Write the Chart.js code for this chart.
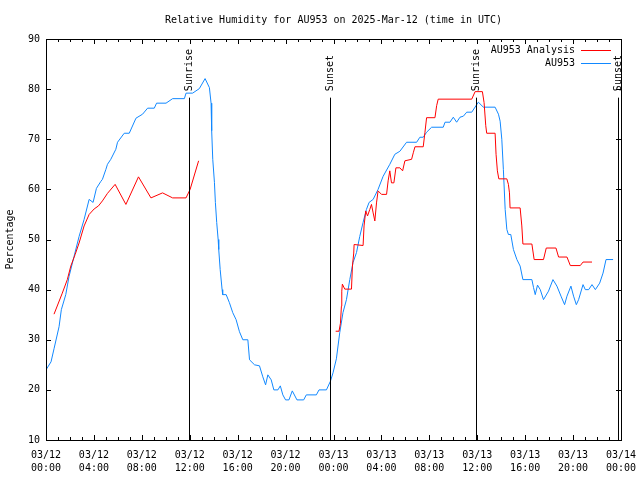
<!DOCTYPE html>
<html>
<head>
<meta charset="utf-8">
<title>Relative Humidity for AU953</title>
<script src="https://cdn.jsdelivr.net/npm/chart.js@4.4.1/dist/chart.umd.min.js"></script>
<style>
    html, body { margin: 0; padding: 0; background: #fff; }
    #wrap { width: 640px; height: 480px; }
</style>
</head>
<body>
<div id="wrap"><canvas id="rhChart" width="640" height="480"></canvas></div>
<script>
// Hours since 03/12 00:00 UTC, with values
const analysisHours = [0.67, 1.36, 1.78, 2.07, 2.43, 2.76, 3.18, 3.60, 4.02, 4.38, 4.71, 5.13, 5.77, 6.67, 7.72,
    8.76, 9.73, 10.57, 11.69, 12.03, 12.74, 18.00,
    24.18, 24.46, 24.58, 24.66, 24.69, 24.74, 24.94, 25.50, 25.58, 25.69, 25.72, 26.47, 26.55, 26.69, 26.84,
    27.03, 27.17, 27.31, 27.45, 27.59, 27.72, 28.01, 28.43, 28.56, 28.70, 28.84, 29.04, 29.21, 29.54, 29.77,
    29.96, 30.52, 30.66, 30.80, 31.49, 31.63, 31.77, 32.47, 32.61, 32.74, 35.54, 35.82, 36.43, 36.57, 36.71,
    36.79, 37.49, 37.57, 37.68, 37.80, 38.47, 38.60, 38.69, 38.74, 39.58, 39.72, 39.81, 40.56, 40.75, 41.53,
    41.76, 42.57, 42.79, 43.49, 43.77, 44.60, 44.83, 45.58];
const analysisValues = [35.1, 39.3, 42.0, 44.7, 47.0, 49.3, 52.7, 55.0, 56.1, 56.7, 57.7, 59.2, 61.0, 57.0, 62.5,
    58.3, 59.3, 58.3, 58.3, 60.0, 65.7, null,
    31.7, 31.7, 33.3, 36.7, 39.7, 41.1, 40.1, 40.1, 44.7, 47.3, 49.0, 48.8, 52.7, 55.7, 54.7,
    56.0, 57.0, 55.3, 53.7, 57.3, 59.7, 59.0, 59.0, 61.7, 63.7, 61.3, 61.3, 64.3, 64.3, 63.7,
    65.7, 66.0, 67.3, 68.5, 68.5, 71.3, 74.3, 74.3, 76.7, 78.0, 78.0, 79.5, 79.5, 77.3, 72.7,
    71.2, 71.2, 67.0, 63.7, 62.1, 62.1, 61.0, 59.3, 56.3, 56.3, 52.7, 49.1, 49.1, 46.0, 46.0,
    48.3, 48.3, 46.5, 46.5, 44.8, 44.8, 45.5, 45.5];

const stationHours = [0.00, 0.42, 0.67, 1.09, 1.28, 1.65, 1.92, 2.34, 2.76, 3.18, 3.60, 3.93, 4.21, 4.58, 4.71,
    5.00, 5.13, 5.41, 5.83, 5.97, 6.53, 6.95, 7.51, 8.06, 8.48, 9.04, 9.23, 10.02, 10.57, 11.55, 11.69, 12.24,
    12.80, 13.28, 13.64, 13.78, 13.83, 13.92, 14.06, 14.14, 14.25, 14.37, 14.42, 14.54, 14.70, 14.75, 15.04,
    15.31, 15.59, 15.87, 16.15, 16.43, 16.85, 16.99, 17.41, 17.82, 18.10, 18.33, 18.52, 18.80, 19.02, 19.36,
    19.56, 19.77, 20.00, 20.28, 20.56, 20.95, 21.51, 21.73, 22.57, 22.79, 23.41, 23.74, 23.96, 24.24, 24.52,
    24.79, 25.08, 25.36, 25.63, 25.92, 26.19, 26.47, 26.75, 26.97, 27.31, 27.72, 28.14, 28.70, 29.12, 29.54,
    30.10, 30.94, 31.21, 31.49, 31.77, 32.19, 33.16, 33.31, 33.72, 34.00, 34.28, 34.56, 34.84, 35.12, 35.54,
    36.09, 36.51, 37.49, 37.77, 37.91, 38.05, 38.18, 38.33, 38.47, 38.60, 38.80, 39.02, 39.31, 39.58, 39.81,
    40.56, 40.70, 40.84, 41.03, 41.26, 41.53, 41.95, 42.32, 42.65, 42.99, 43.29, 43.49, 43.82, 44.04, 44.27,
    44.46, 44.83, 45.02, 45.30, 45.58, 45.86, 46.22, 46.50, 46.75, 47.34];
const stationValues = [24.0, 25.6, 28.2, 32.6, 36.0, 39.0, 42.6, 46.6, 50.6, 54.0, 58.0, 57.4, 60.2, 61.6, 62.0,
    64.0, 65.0, 66.0, 68.0, 69.4, 71.2, 71.2, 74.2, 75.0, 76.2, 76.2, 77.2, 77.2, 78.1, 78.1, 79.2, 79.2,
    80.1, 82.1, 80.3, 77.2, 71.7, 66.0, 61.4, 57.4, 53.4, 50.0, 48.0, 44.0, 40.0, 39.0, 39.0,
    37.4, 35.4, 34.0, 31.6, 30.0, 30.0, 26.0, 25.0, 24.8, 22.6, 21.0, 23.0, 22.0, 20.0, 20.0,
    20.8, 19.0, 18.0, 18.0, 19.8, 18.0, 18.0, 19.0, 19.0, 20.0, 20.0, 21.7, 23.4, 26.2, 31.4,
    35.4, 38.0, 42.0, 45.4, 47.4, 50.6, 53.4, 56.0, 57.4, 58.0, 60.0, 62.6, 65.0, 67.0, 67.6,
    69.4, 69.4, 70.4, 70.4, 71.4, 72.4, 72.4, 73.4, 73.4, 74.4, 73.4, 74.4, 74.6, 75.4, 75.4,
    77.4, 76.4, 76.4, 75.0, 73.6, 70.0, 64.0, 56.0, 52.0, 51.0, 51.0, 48.0, 46.0, 44.7, 42.0,
    42.0, 40.4, 39.0, 40.9, 40.0, 38.0, 39.7, 42.0, 40.7, 38.7, 37.0, 38.7, 40.7, 38.7, 37.0,
    38.0, 41.0, 40.0, 40.0, 41.0, 40.0, 41.3, 43.3, 46.0, 46.0];

const tickDates = ['03/12', '03/12', '03/12', '03/12', '03/12', '03/12', '03/13', '03/13', '03/13', '03/13', '03/13', '03/13', '03/14'];
const tickTimes = ['00:00', '04:00', '08:00', '12:00', '16:00', '20:00', '00:00', '04:00', '08:00', '12:00', '16:00', '20:00', '00:00'];

const sunEvents = ['Sunrise', 'Sunset', 'Sunrise', 'Sunset'];
const sunHours = [11.97, 23.72, 35.90, 47.78];

const seriesNames = ['AU953 Analysis', 'AU953'];
const seriesColors = ['#ff0000', '#1188ff'];

const FONT = "'DejaVu Sans Mono', 'Liberation Mono', monospace";
Chart.defaults.font.family = FONT;
Chart.defaults.font.size = 10;
Chart.defaults.color = '#000';

function toPoints(hours, values) {
    return hours.map((h, i) => ({ x: h, y: values[i] }));
}

// gnuplot style frame with inward ticks on all four sides
const framePlugin = {
    id: 'frame',
    afterDatasetsDraw(chart) {
        const { ctx, chartArea: a, scales: { x, y } } = chart;
        ctx.save();
        ctx.strokeStyle = '#000';
        ctx.lineWidth = 1;
        ctx.beginPath();
        for (let h = 0; h <= 48; h++) {
            const px = Math.round(x.getPixelForValue(h)) + 0.5;
            const len = h % 4 === 0 ? 5 : 3;
            ctx.moveTo(px, a.bottom); ctx.lineTo(px, a.bottom - len);
            ctx.moveTo(px, a.top); ctx.lineTo(px, a.top + len);
        }
        for (let v = 10; v <= 90; v += 10) {
            const py = Math.round(y.getPixelForValue(v)) + 0.5;
            ctx.moveTo(a.left, py); ctx.lineTo(a.left + 5, py);
            ctx.moveTo(a.right, py); ctx.lineTo(a.right - 5, py);
        }
        ctx.stroke();
        ctx.strokeRect(Math.round(a.left) + 0.5, Math.round(a.top) + 0.5,
            Math.round(a.right - a.left), Math.round(a.bottom - a.top));
        ctx.restore();
    }
};

// Sunrise / sunset markers
const sunPlugin = {
    id: 'sunMarkers',
    afterDatasetsDraw(chart) {
        const { ctx, chartArea: a, scales: { x, y } } = chart;
        ctx.save();
        ctx.strokeStyle = '#000';
        ctx.fillStyle = '#000';
        ctx.lineWidth = 1;
        ctx.font = '10px ' + FONT;
        sunHours.forEach((h, i) => {
            const px = Math.round(x.getPixelForValue(h)) + 0.5;
            const lineTop = y.getPixelForValue(78.3);
            ctx.beginPath();
            ctx.moveTo(px, lineTop);
            ctx.lineTo(px, a.bottom);
            ctx.stroke();
            ctx.save();
            ctx.translate(px, y.getPixelForValue(79.6));
            ctx.rotate(-Math.PI / 2);
            ctx.textAlign = 'left';
            ctx.textBaseline = 'middle';
            ctx.fillText(sunEvents[i], 0, 0);
            ctx.restore();
        });
        ctx.restore();
    }
};

// Legend in gnuplot layout: right aligned text, sample line after it
const keyPlugin = {
    id: 'key',
    afterDraw(chart) {
        const { ctx, chartArea: a } = chart;
        ctx.save();
        ctx.font = '10px ' + FONT;
        ctx.textAlign = 'right';
        ctx.textBaseline = 'middle';
        seriesNames.forEach((name, i) => {
            const rowY = a.top + 11 + i * 13;
            ctx.fillStyle = '#000';
            ctx.fillText(name, a.right - 46, rowY);
            ctx.strokeStyle = seriesColors[i];
            ctx.lineWidth = 1;
            ctx.beginPath();
            ctx.moveTo(a.right - 40, Math.round(rowY) + 0.5);
            ctx.lineTo(a.right - 10, Math.round(rowY) + 0.5);
            ctx.stroke();
        });
        ctx.restore();
    }
};

new Chart(document.getElementById('rhChart'), {
    type: 'line',
    data: {
        datasets: [{
            label: seriesNames[0],
            data: toPoints(analysisHours, analysisValues),
            borderColor: seriesColors[0],
            borderWidth: 1,
            pointRadius: 0,
            tension: 0,
            spanGaps: false,
            fill: false
        }, {
            label: seriesNames[1],
            data: toPoints(stationHours, stationValues),
            borderColor: seriesColors[1],
            borderWidth: 1,
            pointRadius: 0,
            tension: 0,
            fill: false
        }]
    },
    options: {
        responsive: false,
        animation: false,
        devicePixelRatio: 1,
        layout: {
            padding: { left: 0, right: 19, top: 0, bottom: 0 }
        },
        plugins: {
            legend: { display: false },
            tooltip: { enabled: false },
            title: {
                display: true,
                fullSize: false,
                text: 'Relative Humidity for AU953 on 2025-Mar-12 (time in UTC)',
                font: { family: FONT, size: 10, weight: 'normal', lineHeight: 1.2 },
                color: '#000',
                padding: { top: 14, bottom: 13 }
            }
        },
        scales: {
            x: {
                type: 'linear',
                min: 0,
                max: 48,
                grid: { display: false, drawTicks: false },
                border: { display: false },
                afterFit: (scale) => {
                    scale.height = 40;
                    scale.paddingLeft = 0;
                    scale.paddingRight = 0;
                },
                ticks: {
                    stepSize: 4,
                    autoSkip: false,
                    maxRotation: 0,
                    padding: 9,
                    font: { family: FONT, size: 10, lineHeight: 1.3 },
                    callback: (value) => {
                        const i = Math.round(value / 4);
                        return [tickDates[i], tickTimes[i]];
                    }
                }
            },
            y: {
                min: 10,
                max: 90,
                grid: { display: false, drawTicks: false },
                border: { display: false },
                afterFit: (scale) => {
                    scale.width = 46;
                    scale.paddingTop = 0;
                    scale.paddingBottom = 0;
                },
                title: {
                    display: true,
                    text: 'Percentage',
                    font: { family: FONT, size: 10, lineHeight: 1.2 },
                    padding: { top: 4, bottom: 0 }
                },
                ticks: {
                    stepSize: 10,
                    padding: 6,
                    font: { family: FONT, size: 10 }
                }
            }
        }
    },
    plugins: [framePlugin, sunPlugin, keyPlugin]
});
</script>
</body>
</html>
